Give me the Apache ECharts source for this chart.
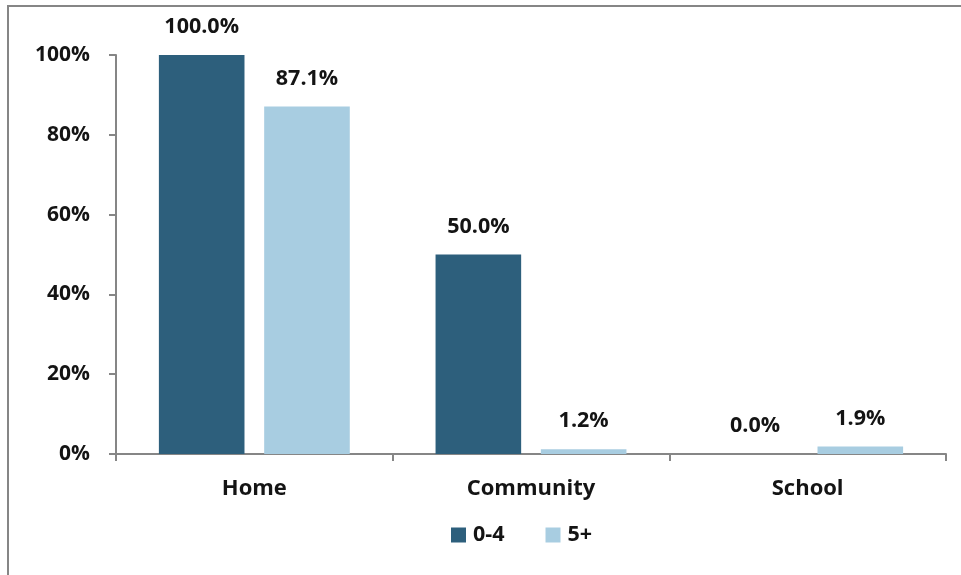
<!DOCTYPE html>
<html>
<head>
<meta charset="utf-8">
<script src="https://cdn.jsdelivr.net/npm/echarts@6/dist/echarts.min.js"></script>
<style>
html,body{margin:0;padding:0;background:#fff;}
#c{width:961px;height:575px;}
</style>
</head>
<body>
<div id="c"></div>
<script>
const categories = ['Home', 'Community', 'School'];
const seriesNames = ['0-4', '5+'];
const values04 = [100.0, 50.0, 0.0];
const values5p = [87.1, 1.2, 1.9];
const yTicks = [0, 20, 40, 60, 80, 100];

const FONT = 'Open Sans';
const TXT = '#141414';
const chart = echarts.init(document.getElementById('c'));
const labelCfg = {
  show: true, position: 'top', distance: 17,
  formatter: p => p.value.toFixed(1) + '%',
  fontFamily: FONT, fontWeight: 'bold', fontSize: 21.5, color: TXT
};
chart.setOption({
  animation: false,
  backgroundColor: '#fff',
  graphic: [{
    type: 'polyline', silent: true,
    shape: { points: [[8, 575], [8, 6], [961, 6]] },
    style: { stroke: '#868686', lineWidth: 2, fill: null }
  }],
  grid: { left: 116, right: 15, top: 55, bottom: 121 },
  legend: {
    data: seriesNames, top: 519, left: 446, icon: 'rect',
    itemWidth: 15, itemHeight: 15, itemGap: 41,
    textStyle: { fontFamily: FONT, fontWeight: 'bold', fontSize: 21.5, color: TXT, padding: [0, 0, 0, 2] }
  },
  xAxis: {
    type: 'category', data: categories,
    axisLine: { lineStyle: { color: '#868686', width: 2 } },
    axisTick: { show: true, length: 7, lineStyle: { color: '#868686', width: 2 } },
    axisLabel: { margin: 24, fontFamily: FONT, fontWeight: 'bold', fontSize: 22, color: TXT }
  },
  yAxis: {
    type: 'value', min: yTicks[0], max: yTicks[yTicks.length - 1], interval: 20,
    splitLine: { show: false },
    axisLine: { show: true, lineStyle: { color: '#868686', width: 2 } },
    axisTick: { show: true, length: 7, lineStyle: { color: '#868686', width: 2 } },
    axisLabel: { margin: 26, formatter: v => v + '%', fontFamily: FONT, fontWeight: 'bold', fontSize: 21, color: TXT }
  },
  series: [
    { name: seriesNames[0], type: 'bar', data: values04, itemStyle: { color: '#2D5F7C' },
      barGap: '23%', barCategoryGap: '31%', label: labelCfg },
    { name: seriesNames[1], type: 'bar', data: values5p, itemStyle: { color: '#A8CDE1' },
      barGap: '23%', barCategoryGap: '31%', label: labelCfg }
  ]
});
</script>
</body>
</html>
